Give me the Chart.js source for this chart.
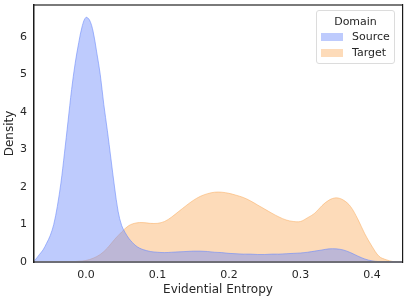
<!DOCTYPE html>
<html>
<head>
<meta charset="utf-8">
<script src="https://cdn.jsdelivr.net/npm/chart.js@4"></script>
<style>
  html, body { margin: 0; padding: 0; background: #fff; }
  #wrap { position: relative; width: 407px; height: 301px; font-family: "DejaVu Sans", sans-serif; color: #262626; }
  #legend { position: absolute; left: 316px; top: 10px; width: 79px; height: 54px; border: 1px solid #dcdcdc; border-radius: 3px; background: rgba(255,255,255,0.85); box-sizing: border-box; font-size: 11px; }
  #legend .title { position: absolute; left: 0; right: 0; top: 4px; text-align: center; line-height: 14px; }
  #legend .row { position: absolute; left: 4px; width: 70px; height: 14px; line-height: 14px; }
  #legend .sw { position: absolute; left: 0; top: 3px; width: 22px; height: 8px; }
  #legend .lab { position: absolute; left: 31px; top: 0; white-space: nowrap; }
</style>
</head>
<body>
<div id="wrap">
  <canvas id="c" width="407" height="301"></canvas>
  <div id="legend">
    <div class="title">Domain</div>
    <div class="row" style="top:19px"><span class="sw" style="background:rgb(190,203,253)"></span><span class="lab">Source</span></div>
    <div class="row" style="top:35px"><span class="sw" style="background:rgb(253,219,185)"></span><span class="lab">Target</span></div>
  </div>
</div>
<script>
const seriesNames = ["Source", "Target"];
const xTickValues = [0.0, 0.1, 0.2, 0.3, 0.4];
const yTickValues = [0, 1, 2, 3, 4, 5, 6];

const sourceX = [-0.072,-0.069,-0.065,-0.06,-0.055,-0.05,-0.045,-0.04,-0.035,-0.03,-0.025,-0.02,-0.015,-0.01,-0.005,0,0.005,0.01,0.015,0.02,0.025,0.03,0.035,0.04,0.045,0.05,0.055,0.06,0.065,0.07,0.075,0.08,0.09,0.1,0.11,0.12,0.13,0.14,0.15,0.16,0.17,0.18,0.19,0.2,0.21,0.22,0.23,0.24,0.25,0.26,0.27,0.28,0.29,0.3,0.31,0.32,0.33,0.34,0.35,0.36,0.37,0.38,0.39,0.4,0.41,0.42,0.442];
const sourceDensity = [0.04,0.1,0.2,0.32,0.5,0.7,1.0,1.48,2.1,2.9,3.75,4.6,5.3,5.85,6.3,6.52,6.45,6.15,5.6,5.0,4.2,3.5,2.75,2.0,1.35,0.97,0.78,0.63,0.52,0.43,0.37,0.33,0.28,0.26,0.25,0.26,0.27,0.28,0.29,0.29,0.28,0.26,0.25,0.23,0.22,0.21,0.21,0.2,0.2,0.21,0.21,0.22,0.23,0.24,0.26,0.29,0.32,0.35,0.35,0.32,0.25,0.16,0.08,0.03,0.01,0,0];

const targetX = [-0.072,-0.05,-0.03,-0.02,-0.01,0,0.01,0.02,0.03,0.04,0.05,0.06,0.07,0.08,0.09,0.1,0.11,0.12,0.13,0.14,0.15,0.16,0.17,0.18,0.19,0.2,0.21,0.22,0.23,0.24,0.25,0.26,0.27,0.28,0.29,0.3,0.31,0.32,0.33,0.34,0.35,0.36,0.37,0.38,0.39,0.4,0.41,0.42,0.43,0.442];
const targetDensity = [0,0,0,0.005,0.02,0.04,0.1,0.2,0.37,0.6,0.8,0.97,1.04,1.05,1.03,1.03,1.08,1.2,1.35,1.5,1.64,1.75,1.82,1.86,1.86,1.83,1.78,1.72,1.63,1.52,1.41,1.3,1.2,1.12,1.08,1.08,1.18,1.3,1.5,1.65,1.71,1.65,1.48,1.15,0.75,0.42,0.15,0.06,0.01,0];

function pts(xs, ys) { return xs.map((x, i) => ({ x: x, y: ys[i] })); }

const frame = {
  id: 'frame',
  afterDatasetsDraw(chart) {
    const a = chart.chartArea, ctx = chart.ctx;
    ctx.save();
    ctx.fillStyle = '#7a7a7a';
    ctx.fillRect(a.left, a.top - 1, a.right - a.left, 2);
    ctx.fillStyle = '#6e6e76';
    ctx.fillRect(a.left, a.bottom - 1, a.right - a.left, 2);
    ctx.fillStyle = '#1a1a1a';
    ctx.fillRect(a.left - 1, a.top - 1, 1.5, a.bottom - a.top + 2);
    ctx.fillRect(a.right, a.top - 1, 1.2, a.bottom - a.top + 2);
    ctx.restore();
  }
};

const font = { family: '"DejaVu Sans", sans-serif', size: 11 };
new Chart(document.getElementById('c'), {
  type: 'line',
  data: {
    datasets: [
      {
        label: seriesNames[1],
        data: pts(targetX, targetDensity),
        borderColor: 'rgba(250,175,100,0.55)',
        backgroundColor: 'rgba(250,175,100,0.45)',
        borderWidth: 1,
        fill: 'origin',
        pointRadius: 0,
        tension: 0.35,
        order: 2
      },
      {
        label: seriesNames[0],
        data: pts(sourceX, sourceDensity),
        borderColor: 'rgba(110,140,250,0.6)',
        backgroundColor: 'rgba(110,140,250,0.45)',
        borderWidth: 1,
        fill: 'origin',
        pointRadius: 0,
        tension: 0.35,
        order: 1
      }
    ]
  },
  options: {
    responsive: false,
    animation: false,
    events: [],
    layout: { padding: { top: 5, right: 5, left: 0, bottom: 0 } },
    plugins: { legend: { display: false }, tooltip: { enabled: false } },
    scales: {
      x: {
        type: 'linear',
        min: -0.0726,
        max: 0.442,
        grid: { display: false, drawTicks: false },
        border: { display: false },
        afterBuildTicks: s => { s.ticks = xTickValues.map(v => ({ value: v })); },
        afterFit: s => { s.height = 39; s.paddingLeft = 0; s.paddingRight = 0; },
        ticks: { font: font, color: '#262626', padding: 7, maxRotation: 0, callback: v => Number(v).toFixed(1) },
        title: { display: true, text: 'Evidential Entropy', font: { family: font.family, size: 12 }, color: '#262626', padding: { top: 0, bottom: 4 } }
      },
      y: {
        type: 'linear',
        min: 0,
        max: 6.85,
        grid: { display: false, drawTicks: false },
        border: { display: false },
        afterBuildTicks: s => { s.ticks = yTickValues.map(v => ({ value: v })); },
        afterFit: s => { s.width = 34; s.paddingTop = 0; s.paddingBottom = 0; },
        ticks: { font: font, color: '#262626', padding: 7, callback: v => String(v) },
        title: { display: true, text: 'Density', font: { family: font.family, size: 12 }, color: '#262626', padding: { top: 3, bottom: 0 } }
      }
    }
  },
  plugins: [frame]
});
</script>
</body>
</html>
